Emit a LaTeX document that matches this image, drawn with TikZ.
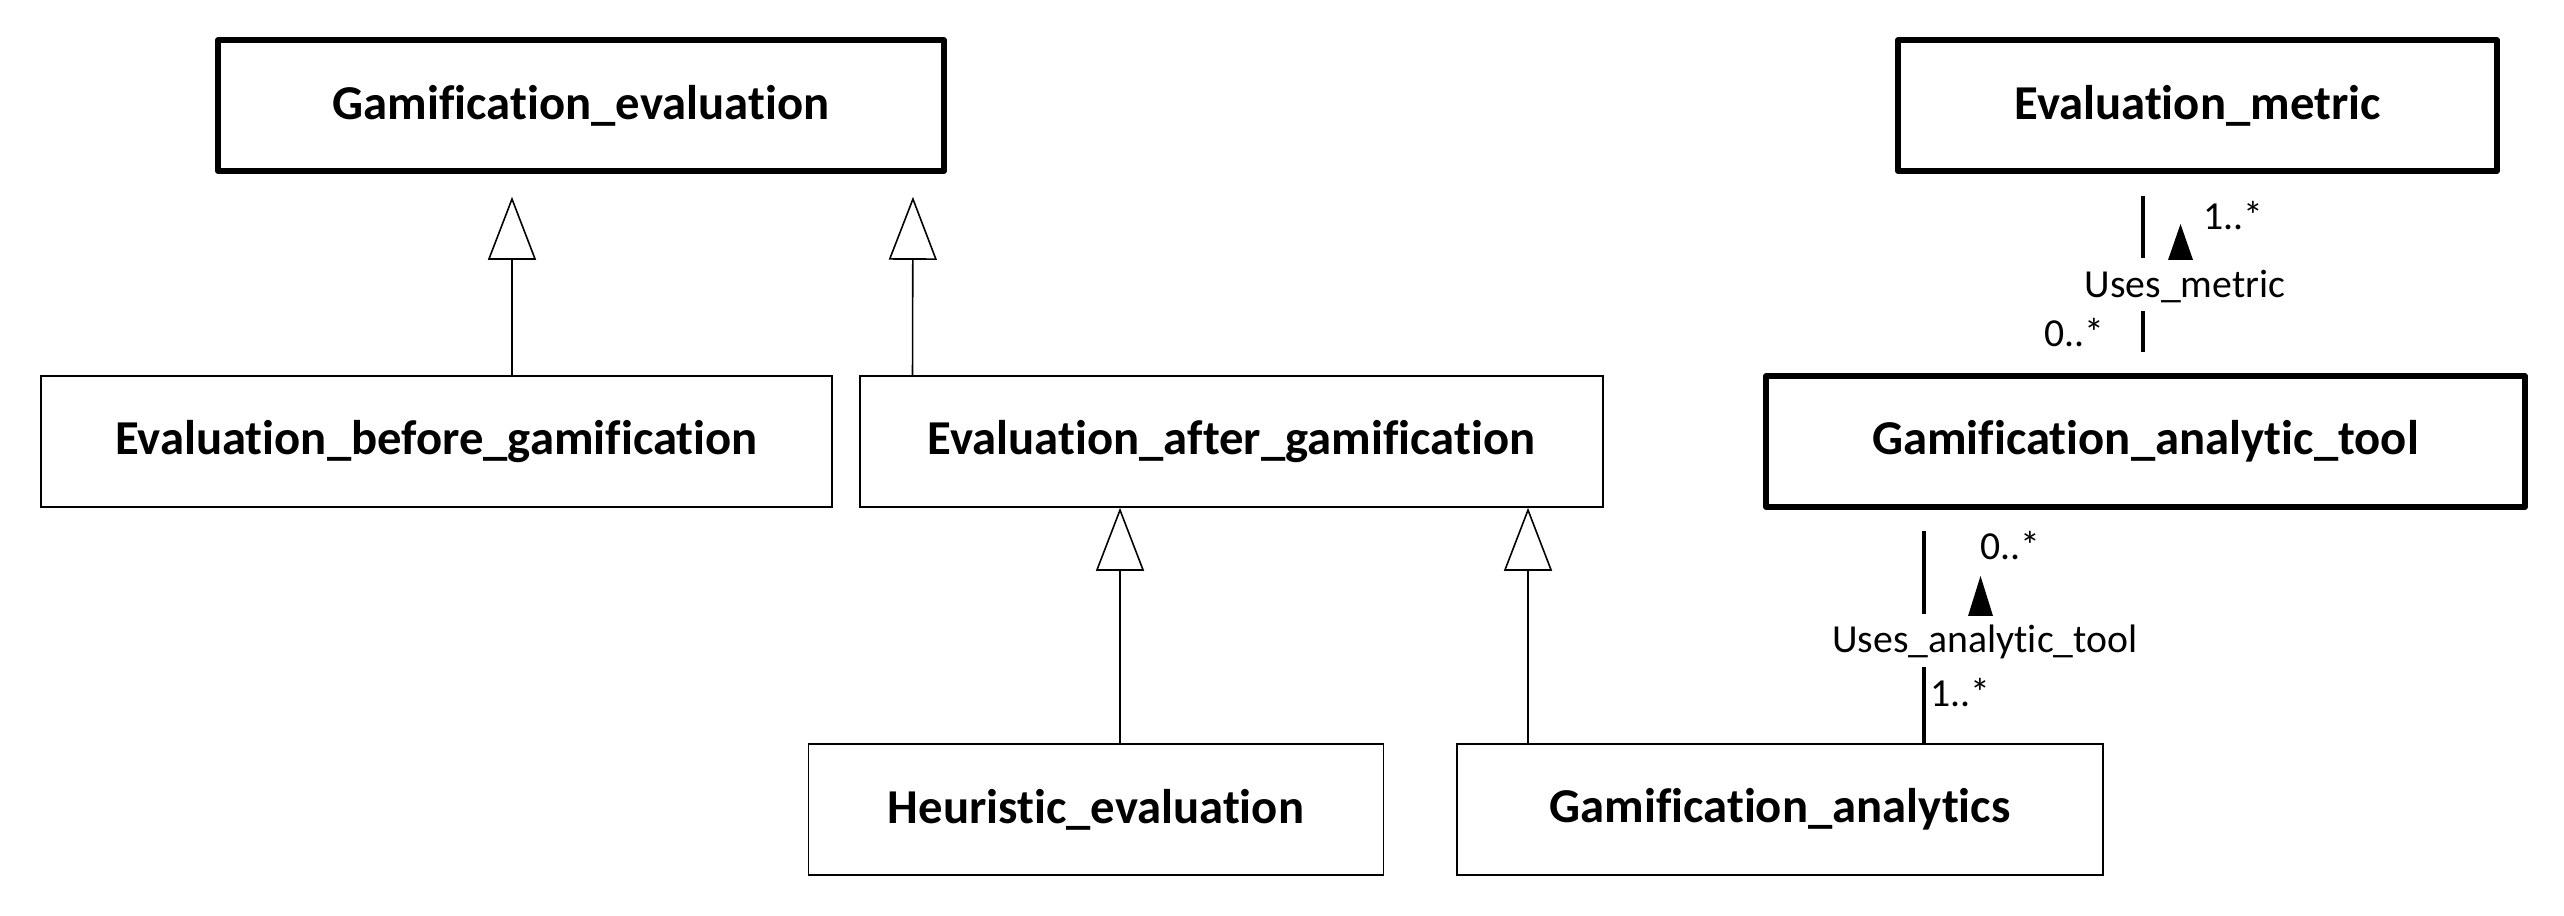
\documentclass[tikz,border=0pt]{standalone}
\usepackage{fontspec}
\setmainfont{Carlito}[Ligatures=NoCommon]
\usetikzlibrary{arrows.meta}

\begin{document}
\begin{tikzpicture}[
        cls/.style={draw, line width=0.45pt, minimum height=1.31cm, inner sep=0,
            font=\fontsize{13.85}{16}\selectfont\bfseries},
        topcls/.style={cls, line width=1.6pt, line join=round},
        gen/.style={-{Triangle[open, length=0.63cm, width=0.48cm]}, line width=0.45pt},
        assoc/.style={line width=1.15pt},
        lbl/.style={inner sep=0, font=\fontsize{11.3}{13}\selectfont}]
        \useasboundingbox (0, 0) rectangle (25.64, -9.16);
        % classes
        \node[topcls, minimum width=7.26cm] (ge) at (5.81, -1.055) {Gamification\_evaluation};
        \node[topcls, minimum width=5.99cm] (em) at (21.975, -1.055) {Evaluation\_metric};
        \node[cls, minimum width=7.91cm] (ebg) at (4.365, -4.415) {Evaluation\_before\_gamification};
        \node[cls, minimum width=7.43cm] (eag) at (12.315, -4.415) {Evaluation\_after\_gamification};
        \node[topcls, minimum width=7.59cm] (gat) at (21.455, -4.415) {Gamification\_analytic\_tool};
        \node[cls, minimum width=5.75cm] (he) at (10.96, -8.095) {Heuristic\_evaluation};
        \node[cls, minimum width=6.46cm] (ga) at (17.80, -8.095) {Gamification\_analytics};
        % generalizations
        \draw[gen, shorten >=0.23cm] ([xshift=0.755cm]ebg.north) -- ([xshift=-0.69cm]ge.south);
        \draw[gen, shorten >=0.23cm] ([xshift=-3.19cm]eag.north) -- ([xshift=3.32cm]ge.south);
        \draw[gen] ([xshift=0.24cm]he.north) -- ([xshift=-1.115cm]eag.south);
        \draw[gen] ([xshift=-2.52cm]ga.north) -- ([xshift=2.965cm]eag.south);
        % associations
        \node[lbl, anchor=base] (um) at (21.85, -2.98) {Uses\_metric};
        \node[lbl, anchor=base west] (m1) at (22.03, -2.30) {1..*};
        \node[lbl, anchor=base east] (m0) at (21.05, -3.47) {0..*};
        \coordinate (mx) at (21.43, 0);
        \draw[assoc, shorten <=0.22cm, shorten >=0.12cm] (em.south -| mx) -- (um.north -| mx);
        \draw[assoc, shorten <=0.07cm, shorten >=0.21cm] (um.south -| mx) -- (gat.north -| mx);
        \fill (21.805, -2.24) -- (21.68, -2.60) -- (21.93, -2.60) -- cycle;
        \node[lbl, anchor=base] (uat) at (19.85, -6.53) {Uses\_analytic\_tool};
        \node[lbl, anchor=base west] (t0) at (19.80, -5.60) {0..*};
        \node[lbl, anchor=base west] (t1) at (19.30, -7.07) {1..*};
        \coordinate (tx) at (19.24, 0);
        \draw[assoc, shorten <=0.21cm, shorten >=0.11cm] (gat.south -| tx) -- (uat.north -| tx);
        \draw[assoc, shorten <=0.07cm] (uat.south -| tx) -- (ga.north -| tx);
        \fill (19.805, -5.76) -- (19.68, -6.16) -- (19.93, -6.16) -- cycle;
\end{tikzpicture}
\end{document}
